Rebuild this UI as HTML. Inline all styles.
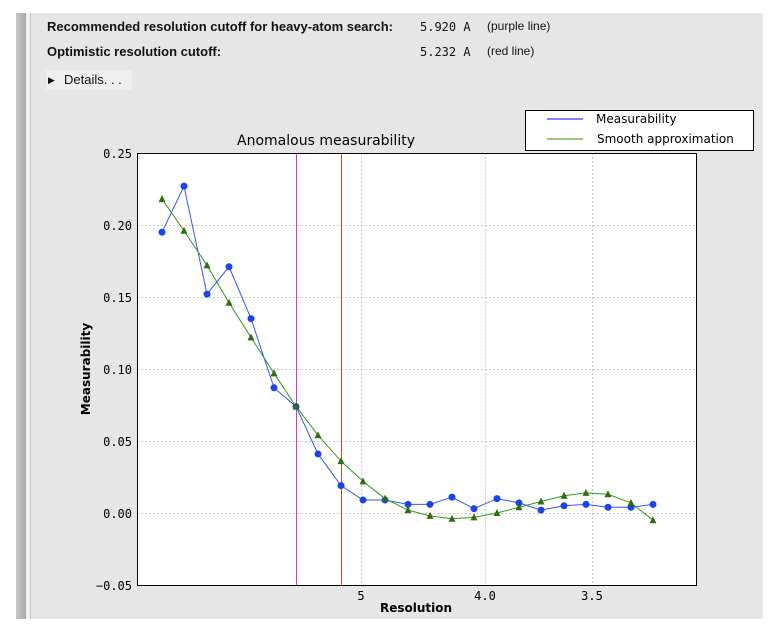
<!DOCTYPE html>
<html><head><style>
body{margin:0;width:780px;height:633px;background:#fff;position:relative;overflow:hidden;font-family:"Liberation Sans",sans-serif;}
.t{position:absolute;font-size:13px;color:#111;}
.b{font-weight:bold;}
.m{font-family:"DejaVu Sans Mono",monospace;font-size:12px;}
</style></head><body>
<div style="position:absolute;left:16px;top:13px;width:747px;height:606px;background:#e6e6e6"></div>
<div style="position:absolute;left:16px;top:13px;width:10px;height:606px;background:linear-gradient(90deg,#c8c8c8,#a8a8a8)"></div>
<div style="position:absolute;left:26px;top:13px;width:4px;height:606px;background:#f0f0f0"></div>
<div style="position:absolute;left:30px;top:13px;width:1px;height:606px;background:#c8c8c8"></div>
<div class="t b" style="left:47px;top:19px">Recommended resolution cutoff for heavy-atom search:</div>
<div class="t m" style="left:420px;top:20px">5.920 A</div>
<div class="t" style="left:487px;top:19px;font-size:12px">(purple line)</div>
<div class="t b" style="left:47px;top:44px">Optimistic resolution cutoff:</div>
<div class="t m" style="left:420px;top:45px">5.232 A</div>
<div class="t" style="left:487px;top:44px;font-size:12px">(red line)</div>
<div style="position:absolute;left:46px;top:70px;width:86px;height:20px;background:#efefef"></div>
<div class="t" style="left:48px;top:75px;font-size:9px">&#9654;&#xFE0E;</div>
<div class="t" style="left:64px;top:72px;font-size:13px">Details. . .</div>
<svg width="780" height="633" style="position:absolute;left:0;top:0" font-family="DejaVu Sans,sans-serif">
<rect x="137" y="153" width="559" height="432" fill="#fff"/>
<g stroke="#c4c4c4" stroke-dasharray="2,2" stroke-width="1">
<line x1="137" x2="696" y1="225.5" y2="225.5"/><line x1="137" x2="696" y1="297.5" y2="297.5"/>
<line x1="137" x2="696" y1="369.5" y2="369.5"/><line x1="137" x2="696" y1="441.5" y2="441.5"/>
<line x1="137" x2="696" y1="513.5" y2="513.5"/>
<line x1="361.5" x2="361.5" y1="153" y2="585"/><line x1="485.5" x2="485.5" y1="153" y2="585"/><line x1="592.5" x2="592.5" y1="153" y2="585"/>
</g>
<line x1="296.5" x2="296.5" y1="153" y2="585" stroke="#dd33cc"/>
<line x1="341.5" x2="341.5" y1="153" y2="585" stroke="#cc4422"/>
<g id="s"></g>
<rect x="137.5" y="153.5" width="559" height="432" fill="none" stroke="#000"/>
<g font-family="DejaVu Sans Mono,monospace" font-size="12" text-anchor="end">
<text x="132" y="158">0.25</text><text x="132" y="230">0.20</text><text x="132" y="302">0.15</text>
<text x="132" y="374">0.10</text><text x="132" y="446">0.05</text><text x="132" y="518">0.00</text><text x="132" y="590">−0.05</text>
</g>
<g font-family="DejaVu Sans Mono,monospace" font-size="12" text-anchor="middle">
<text x="361" y="600">5</text><text x="485" y="600">4.0</text><text x="592" y="600">3.5</text>
</g>
<text x="416" y="612" font-size="12" font-weight="bold" text-anchor="middle">Resolution</text>
<text transform="translate(90,369) rotate(-90)" font-size="12" font-weight="bold" text-anchor="middle">Measurability</text>
<text x="326" y="145" font-size="14" text-anchor="middle">Anomalous measurability</text>
<rect x="525.5" y="110.5" width="228" height="40" fill="#fff" stroke="#000"/>
<line x1="547" x2="583" y1="119" y2="119" stroke="#0000ff"/>
<line x1="547" x2="583" y1="139" y2="139" stroke="#338800"/>
<text x="596" y="123" font-size="12">Measurability</text>
<text x="597" y="143" font-size="12">Smooth approximation</text>
</svg>
<script>
var xs=[162,184,207,229,251,274,296,318,341,363,385,408,430,452,474,497,519,541,564,586,608,631,653];
var b=[.195,.227,.152,.171,.135,.087,.074,.041,.019,.009,.009,.006,.006,.011,.003,.010,.007,.002,.005,.006,.004,.004,.006];
var g=[.218,.196,.172,.146,.122,.097,.074,.054,.036,.022,.010,.002,-.002,-.004,-.003,0,.004,.008,.012,.014,.013,.007,-.005];
function Y(v){return 513-v*1440;}
var h='';
h+='<polyline fill="none" stroke="#3355ff" stroke-width="1" points="'+xs.map((x,i)=>x+','+Y(b[i])).join(' ')+'"/>';
xs.forEach((x,i)=>{h+='<circle cx="'+x+'" cy="'+Y(b[i])+'" r="3.5" fill="#1a44ee"/>';});
h+='<polyline fill="none" stroke="#339922" stroke-width="1" points="'+xs.map((x,i)=>x+','+Y(g[i])).join(' ')+'"/>';
xs.forEach((x,i)=>{var y=Y(g[i]);h+='<polygon points="'+x+','+(y-4)+' '+(x-3.5)+','+(y+3)+' '+(x+3.5)+','+(y+3)+'" fill="#2f6e10"/>';});
document.getElementById('s').innerHTML=h;
</script>
</body></html>
